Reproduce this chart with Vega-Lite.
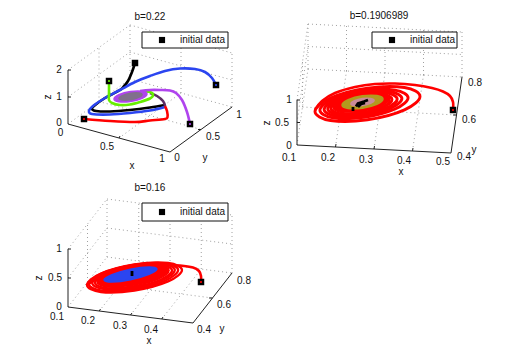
{
"$schema":"https://vega.github.io/schema/vega-lite/v6.json",
"width":521,"height":364,"autosize":{"type":"fit","contains":"padding"},"padding":0,"background":"white",
"config":{"view":{"stroke":null}},
"datasets":{
"dotted":[
{"h":68,"v":124,"h2":130,"v2":79},{"h":130,"v":79,"h2":232,"v2":107},{"h":68,"v":70,"h2":130,"v2":25},{"h":130,"v":25,"h2":232,"v2":53},{"h":130,"v":79,"h2":130,"v2":25},{"h":232,"v":107,"h2":232,"v2":53},
{"h":119,"v":138,"h2":181,"v2":93},{"h":99,"v":101.5,"h2":201,"v2":129.5},{"h":99,"v":101.5,"h2":99,"v2":47.5},{"h":68,"v":97,"h2":130,"v2":52},{"h":181,"v":93,"h2":181,"v2":39},{"h":130,"v":52,"h2":232,"v2":80},
{"h":335.5,"v":147,"h2":346.5,"v2":71},{"h":374,"v":149,"h2":385,"v2":73},{"h":412.5,"v":151,"h2":423.5,"v2":75},{"h":297,"v":145,"h2":308,"v2":69},{"h":302.5,"v":107,"h2":456.5,"v2":115},{"h":308,"v":69,"h2":462,"v2":77},
{"h":297,"v":122.5,"h2":308,"v2":46.5},{"h":297,"v":100,"h2":308,"v2":24},{"h":302.5,"v":107,"h2":302.5,"v2":62},{"h":308,"v":69,"h2":308,"v2":24},{"h":308,"v":46.5,"h2":462,"v2":54.5},{"h":308,"v":24,"h2":462,"v2":32},
{"h":346.5,"v":71,"h2":346.5,"v2":26},{"h":385,"v":73,"h2":385,"v2":28},{"h":423.5,"v":75,"h2":423.5,"v2":30},{"h":462,"v":77,"h2":462,"v2":32},
{"h":99.25,"v":311,"h2":138.75,"v2":261},{"h":130.5,"v":315,"h2":170,"v2":265},{"h":161.75,"v":319,"h2":201.25,"v2":269},{"h":87.5,"v":282,"h2":212.5,"v2":298},{"h":107,"v":257,"h2":232,"v2":273},{"h":68,"v":307,"h2":107,"v2":257},
{"h":68,"v":278,"h2":107,"v2":228},{"h":68,"v":249,"h2":107,"v2":199},{"h":87.5,"v":282,"h2":87.5,"v2":224},{"h":107,"v":257,"h2":107,"v2":199},{"h":107,"v":228,"h2":232,"v2":244},{"h":107,"v":199,"h2":232,"v2":215},
{"h":138.75,"v":261,"h2":138.75,"v2":203},{"h":170,"v":265,"h2":170,"v2":207},{"h":201.25,"v":269,"h2":201.25,"v2":211},{"h":232,"v":273,"h2":232,"v2":215}
],
"solid":[
{"h":68,"v":124,"h2":68,"v2":70},{"h":68,"v":124,"h2":170,"v2":152},{"h":170,"v":152,"h2":232,"v2":107},
{"h":68,"v":97,"h2":71,"v2":97},{"h":68,"v":70,"h2":71,"v2":70},{"h":119,"v":138,"h2":120,"v2":136},{"h":201,"v":129.5,"h2":198,"v2":129.5},
{"h":297,"v":145,"h2":297,"v2":100},{"h":297,"v":145,"h2":451,"v2":153},{"h":451,"v":153,"h2":462,"v2":77},
{"h":297,"v":122.5,"h2":300,"v2":122.5},{"h":297,"v":100,"h2":300,"v2":100},{"h":335.5,"v":147,"h2":336,"v2":144},{"h":374,"v":149,"h2":374.5,"v2":146},{"h":412.5,"v":151,"h2":413,"v2":148},{"h":456.5,"v":115,"h2":453,"v2":115},
{"h":68,"v":307,"h2":68,"v2":249},{"h":68,"v":307,"h2":193,"v2":323},{"h":193,"v":323,"h2":232,"v2":273},
{"h":68,"v":278,"h2":71,"v2":278},{"h":68,"v":249,"h2":71,"v2":249},{"h":99.25,"v":311,"h2":100.5,"v2":309},{"h":130.5,"v":315,"h2":132,"v2":313},{"h":161.75,"v":319,"h2":163,"v2":317},{"h":212.5,"v":298,"h2":209,"v2":298}
],
"markers":[{"h":84,"v":119,"s":"red"},{"h":135,"v":63,"s":"black"},{"h":109,"v":81,"s":"green"},{"h":216,"v":85,"s":"blue"},{"h":190,"v":124,"s":"purple"},{"h":453,"v":110,"s":"red"},{"h":201,"v":282,"s":"red"}],
"legendMarkers":[{"h":162,"v":40},{"h":392,"v":40},{"h":162,"v":212}],
"boxes":[{"h":142,"v":32,"h2":228,"v2":48},{"h":372,"v":32,"h2":457,"v2":48},{"h":142,"v":203,"h2":228,"v2":221}],
"legendText":[{"t":"initial data","h":180,"v":40},{"t":"initial data","h":410,"v":40},{"t":"initial data","h":180,"v":212}],
"labels":[
{"t":"b=0.22","h":150,"v":17},{"t":"0","h":60.5,"v":132.5},{"t":"0.5","h":107,"v":147},{"t":"1","h":162,"v":159},{"t":"0","h":177,"v":158},{"t":"0.5","h":213,"v":137},{"t":"1","h":239,"v":115},{"t":"0","h":59,"v":123},{"t":"1","h":59,"v":97},{"t":"2","h":59,"v":70},{"t":"x","h":132,"v":166},{"t":"y","h":205,"v":158},
{"t":"b=0.1906989","h":379,"v":16},{"t":"0.1","h":289,"v":158},{"t":"0.2","h":328,"v":158},{"t":"0.3","h":366,"v":160},{"t":"0.4","h":404,"v":161},{"t":"0.5","h":443,"v":162},{"t":"0.4","h":464,"v":157},{"t":"0.6","h":469,"v":120},{"t":"0.8","h":475,"v":83},{"t":"0","h":289,"v":146},{"t":"0.5","h":282,"v":123},{"t":"1","h":289,"v":100},{"t":"x","h":401,"v":172},{"t":"y","h":474,"v":150},
{"t":"b=0.16","h":150,"v":188},{"t":"0.1","h":57,"v":317},{"t":"0.2","h":88,"v":321},{"t":"0.3","h":120,"v":326},{"t":"0.4","h":151,"v":330},{"t":"0.4","h":204,"v":330},{"t":"0.6","h":224,"v":305},{"t":"0.8","h":244,"v":281},{"t":"0","h":59,"v":307},{"t":"0.5","h":55,"v":278},{"t":"1","h":59,"v":249},{"t":"x","h":149,"v":341},{"t":"y","h":222,"v":329}
],
"zLabels":[{"t":"z","h":48,"v":97},{"t":"z","h":267,"v":123},{"t":"z","h":39,"v":278}],
"leads":[
{"g":"p1black","s":"black","i":0,"h":135,"v":63},{"g":"p1black","s":"black","i":1,"h":132,"v":72},{"g":"p1black","s":"black","i":2,"h":128,"v":81},{"g":"p1black","s":"black","i":3,"h":124,"v":86},{"g":"p1black","s":"black","i":4,"h":120,"v":90},{"g":"p1black","s":"black","i":5,"h":105,"v":98},{"g":"p1black","s":"black","i":6,"h":94,"v":106},{"g":"p1black","s":"black","i":7,"h":92,"v":109},{"g":"p1black","s":"black","i":8,"h":96,"v":111},{"g":"p1black","s":"black","i":9,"h":110,"v":111.5},{"g":"p1black","s":"black","i":10,"h":130,"v":110},{"g":"p1black","s":"black","i":11,"h":150,"v":107.5},{"g":"p1black","s":"black","i":12,"h":165,"v":105},
{"g":"p1blue","s":"blue","i":0,"h":216,"v":85},{"g":"p1blue","s":"blue","i":1,"h":212,"v":78},{"g":"p1blue","s":"blue","i":2,"h":205,"v":72},{"g":"p1blue","s":"blue","i":3,"h":195,"v":69},{"g":"p1blue","s":"blue","i":4,"h":180,"v":68.5},{"g":"p1blue","s":"blue","i":5,"h":165,"v":71},{"g":"p1blue","s":"blue","i":6,"h":150,"v":76},{"g":"p1blue","s":"blue","i":7,"h":135,"v":82},{"g":"p1blue","s":"blue","i":8,"h":120,"v":90},{"g":"p1blue","s":"blue","i":9,"h":105,"v":98},{"g":"p1blue","s":"blue","i":10,"h":93,"v":106},{"g":"p1blue","s":"blue","i":11,"h":89,"v":111},{"g":"p1blue","s":"blue","i":12,"h":92,"v":114},{"g":"p1blue","s":"blue","i":13,"h":110,"v":114.5},{"g":"p1blue","s":"blue","i":14,"h":130,"v":113},{"g":"p1blue","s":"blue","i":15,"h":150,"v":110.5},{"g":"p1blue","s":"blue","i":16,"h":165,"v":107},
{"g":"p1red","s":"red","i":0,"h":84,"v":119},{"g":"p1red","s":"red","i":1,"h":110,"v":121},{"g":"p1red","s":"red","i":2,"h":135,"v":122},{"g":"p1red","s":"red","i":3,"h":150,"v":120.5},{"g":"p1red","s":"red","i":4,"h":165,"v":119},{"g":"p1red","s":"red","i":5,"h":167.5,"v":117},{"g":"p1red","s":"red","i":6,"h":167,"v":111},{"g":"p1red","s":"red","i":7,"h":165,"v":106},
{"g":"p1maroon","s":"maroon","i":0,"h":165,"v":106},{"g":"p1maroon","s":"maroon","i":1,"h":163,"v":101},{"g":"p1maroon","s":"maroon","i":2,"h":157,"v":96},{"g":"p1maroon","s":"maroon","i":3,"h":150,"v":93},
{"g":"p1green","s":"green","i":0,"h":109,"v":81},{"g":"p1green","s":"green","i":1,"h":109,"v":92},{"g":"p1green","s":"green","i":2,"h":109,"v":100},{"g":"p1green","s":"green","i":3,"h":112,"v":103},{"g":"p1green","s":"green","i":4,"h":120,"v":105},{"g":"p1green","s":"green","i":5,"h":130,"v":104.5},{"g":"p1green","s":"green","i":6,"h":140,"v":102},{"g":"p1green","s":"green","i":7,"h":150,"v":98.5},{"g":"p1green","s":"green","i":8,"h":153,"v":95},{"g":"p1green","s":"green","i":9,"h":150,"v":92},{"g":"p1green","s":"green","i":10,"h":140,"v":91.5},
{"g":"p1purple","s":"purple","i":0,"h":190,"v":124},{"g":"p1purple","s":"purple","i":1,"h":187,"v":112},{"g":"p1purple","s":"purple","i":2,"h":182,"v":100},{"g":"p1purple","s":"purple","i":3,"h":176,"v":93},{"g":"p1purple","s":"purple","i":4,"h":170,"v":90.5},{"g":"p1purple","s":"purple","i":5,"h":160,"v":90},{"g":"p1purple","s":"purple","i":6,"h":150,"v":90},{"g":"p1purple","s":"purple","i":7,"h":140,"v":91},
{"g":"p2lead","s":"red","i":0,"h":453,"v":110},{"g":"p2lead","s":"red","i":1,"h":453,"v":102},{"g":"p2lead","s":"red","i":2,"h":450,"v":96},{"g":"p2lead","s":"red","i":3,"h":443,"v":91.5},{"g":"p2lead","s":"red","i":4,"h":432,"v":88},{"g":"p2lead","s":"red","i":5,"h":415,"v":85},{"g":"p2lead","s":"red","i":6,"h":395,"v":83.5},{"g":"p2lead","s":"red","i":7,"h":375,"v":84},{"g":"p2lead","s":"red","i":8,"h":355,"v":87},{"g":"p2lead","s":"red","i":9,"h":335,"v":93},{"g":"p2lead","s":"red","i":10,"h":322,"v":101},{"g":"p2lead","s":"red","i":11,"h":315,"v":110},
{"g":"p3lead","s":"red","i":0,"h":201,"v":282},{"g":"p3lead","s":"red","i":1,"h":201,"v":276},{"g":"p3lead","s":"red","i":2,"h":199,"v":271},{"g":"p3lead","s":"red","i":3,"h":193,"v":267.5},{"g":"p3lead","s":"red","i":4,"h":180,"v":265.5},{"g":"p3lead","s":"red","i":5,"h":165,"v":265},{"g":"p3lead","s":"red","i":6,"h":150,"v":265.5},{"g":"p3lead","s":"red","i":7,"h":135,"v":267},{"g":"p3lead","s":"red","i":8,"h":120,"v":270},{"g":"p3lead","s":"red","i":9,"h":105,"v":275},{"g":"p3lead","s":"red","i":10,"h":93,"v":281},{"g":"p3lead","s":"red","i":11,"h":87,"v":285}
],
"ringsTop":[
{"g":"a1","s":"red","i":0,"h":420,"v":96.5},{"g":"a1","s":"red","i":1,"h":404.5,"v":109.9},{"g":"a1","s":"red","i":2,"h":367.5,"v":119.8},{"g":"a1","s":"red","i":3,"h":330.5,"v":120.5},{"g":"a1","s":"red","i":4,"h":315,"v":111.5},{"g":"a1","s":"red","i":5,"h":330.5,"v":98.1},{"g":"a1","s":"red","i":6,"h":367.5,"v":88.2},{"g":"a1","s":"red","i":7,"h":404.5,"v":87.5},
{"g":"a2","s":"red","i":0,"h":408.1,"v":97.7},{"g":"a2","s":"red","i":1,"h":395.1,"v":109},{"g":"a2","s":"red","i":2,"h":364,"v":117.3},{"g":"a2","s":"red","i":3,"h":332.9,"v":117.9},{"g":"a2","s":"red","i":4,"h":319.9,"v":110.3},{"g":"a2","s":"red","i":5,"h":332.9,"v":99},{"g":"a2","s":"red","i":6,"h":364,"v":90.7},{"g":"a2","s":"red","i":7,"h":395.1,"v":90.1},
{"g":"a3","s":"red","i":0,"h":401.9,"v":98.4},{"g":"a3","s":"red","i":1,"h":390.4,"v":108.4},{"g":"a3","s":"red","i":2,"h":363,"v":115.7},{"g":"a3","s":"red","i":3,"h":335.6,"v":116.2},{"g":"a3","s":"red","i":4,"h":324.1,"v":109.6},{"g":"a3","s":"red","i":5,"h":335.6,"v":99.6},{"g":"a3","s":"red","i":6,"h":363,"v":92.3},{"g":"a3","s":"red","i":7,"h":390.4,"v":91.8},
{"g":"a4","s":"red","i":0,"h":397.2,"v":99},{"g":"a4","s":"red","i":1,"h":386.9,"v":107.9},{"g":"a4","s":"red","i":2,"h":362.5,"v":114.4},{"g":"a4","s":"red","i":3,"h":338.1,"v":114.9},{"g":"a4","s":"red","i":4,"h":327.8,"v":109},{"g":"a4","s":"red","i":5,"h":338.1,"v":100.1},{"g":"a4","s":"red","i":6,"h":362.5,"v":93.6},{"g":"a4","s":"red","i":7,"h":386.9,"v":93.1},
{"g":"a5","s":"red","i":0,"h":392,"v":99.6},{"g":"a5","s":"red","i":1,"h":383,"v":107.4},{"g":"a5","s":"red","i":2,"h":361.5,"v":113.2},{"g":"a5","s":"red","i":3,"h":340,"v":113.6},{"g":"a5","s":"red","i":4,"h":331,"v":108.4},{"g":"a5","s":"red","i":5,"h":340,"v":100.6},{"g":"a5","s":"red","i":6,"h":361.5,"v":94.8},{"g":"a5","s":"red","i":7,"h":383,"v":94.4}
],
"ringsBottom":[
{"g":"b1","s":"red","i":0,"h":182,"v":270},{"g":"b1","s":"red","i":1,"h":168.1,"v":281.4},{"g":"b1","s":"red","i":2,"h":134.5,"v":290.5},{"g":"b1","s":"red","i":3,"h":100.9,"v":292},{"g":"b1","s":"red","i":4,"h":87,"v":285},{"g":"b1","s":"red","i":5,"h":100.9,"v":273.6},{"g":"b1","s":"red","i":6,"h":134.5,"v":264.5},{"g":"b1","s":"red","i":7,"h":168.1,"v":263},
{"g":"b2","s":"red","i":0,"h":178.1,"v":269.9},{"g":"b2","s":"red","i":1,"h":165.1,"v":280.7},{"g":"b2","s":"red","i":2,"h":133.5,"v":289.2},{"g":"b2","s":"red","i":3,"h":101.9,"v":290.6},{"g":"b2","s":"red","i":4,"h":88.9,"v":284.1},{"g":"b2","s":"red","i":5,"h":101.9,"v":273.3},{"g":"b2","s":"red","i":6,"h":133.5,"v":264.8},{"g":"b2","s":"red","i":7,"h":165.1,"v":263.4},
{"g":"b3","s":"red","i":0,"h":174.8,"v":270},{"g":"b3","s":"red","i":1,"h":162.7,"v":279.9},{"g":"b3","s":"red","i":2,"h":133.5,"v":287.8},{"g":"b3","s":"red","i":3,"h":104.3,"v":289.1},{"g":"b3","s":"red","i":4,"h":92.2,"v":283},{"g":"b3","s":"red","i":5,"h":104.3,"v":273.1},{"g":"b3","s":"red","i":6,"h":133.5,"v":265.2},{"g":"b3","s":"red","i":7,"h":162.7,"v":263.9},
{"g":"b4","s":"red","i":0,"h":172,"v":270.4},{"g":"b4","s":"red","i":1,"h":160.7,"v":279.7},{"g":"b4","s":"red","i":2,"h":133.5,"v":287},{"g":"b4","s":"red","i":3,"h":106.3,"v":288.2},{"g":"b4","s":"red","i":4,"h":95,"v":282.6},{"g":"b4","s":"red","i":5,"h":106.3,"v":273.3},{"g":"b4","s":"red","i":6,"h":133.5,"v":266},{"g":"b4","s":"red","i":7,"h":160.7,"v":264.8}
],
"blobs":[
{"g":"c1","s":"purple","i":0,"h":147,"v":94},{"g":"c1","s":"purple","i":1,"h":142.2,"v":98.2},{"g":"c1","s":"purple","i":2,"h":130.5,"v":101.5},{"g":"c1","s":"purple","i":3,"h":118.8,"v":101.8},{"g":"c1","s":"purple","i":4,"h":114,"v":99},{"g":"c1","s":"purple","i":5,"h":118.8,"v":94.8},{"g":"c1","s":"purple","i":6,"h":130.5,"v":91.5},{"g":"c1","s":"purple","i":7,"h":142.2,"v":91.2},
{"g":"c2","s":"mauveGray","i":0,"h":142,"v":94.7},{"g":"c2","s":"mauveGray","i":1,"h":138.6,"v":97.4},{"g":"c2","s":"mauveGray","i":2,"h":130.5,"v":99.7},{"g":"c2","s":"mauveGray","i":3,"h":122.4,"v":100},{"g":"c2","s":"mauveGray","i":4,"h":119,"v":98.3},{"g":"c2","s":"mauveGray","i":5,"h":122.4,"v":95.6},{"g":"c2","s":"mauveGray","i":6,"h":130.5,"v":93.3},{"g":"c2","s":"mauveGray","i":7,"h":138.6,"v":93},
{"g":"d1","s":"red","i":0,"h":389.9,"v":99.4},{"g":"d1","s":"red","i":1,"h":381.5,"v":106.7},{"g":"d1","s":"red","i":2,"h":361.5,"v":112},{"g":"d1","s":"red","i":3,"h":341.5,"v":112.4},{"g":"d1","s":"red","i":4,"h":333.1,"v":107.6},{"g":"d1","s":"red","i":5,"h":341.5,"v":100.3},{"g":"d1","s":"red","i":6,"h":361.5,"v":95},{"g":"d1","s":"red","i":7,"h":381.5,"v":94.6},
{"g":"d2","s":"olive","i":0,"h":383,"v":99.1},{"g":"d2","s":"olive","i":1,"h":376.9,"v":104.3},{"g":"d2","s":"olive","i":2,"h":362.5,"v":108.2},{"g":"d2","s":"olive","i":3,"h":348.1,"v":108.4},{"g":"d2","s":"olive","i":4,"h":342,"v":104.9},{"g":"d2","s":"olive","i":5,"h":348.1,"v":99.7},{"g":"d2","s":"olive","i":6,"h":362.5,"v":95.8},{"g":"d2","s":"olive","i":7,"h":376.9,"v":95.6},
{"g":"d3","s":"pink","i":0,"h":374.1,"v":100.3},{"g":"d3","s":"pink","i":1,"h":370.6,"v":103.3},{"g":"d3","s":"pink","i":2,"h":362.5,"v":105.5},{"g":"d3","s":"pink","i":3,"h":354.4,"v":105.6},{"g":"d3","s":"pink","i":4,"h":350.9,"v":103.7},{"g":"d3","s":"pink","i":5,"h":354.4,"v":100.7},{"g":"d3","s":"pink","i":6,"h":362.5,"v":98.5},{"g":"d3","s":"pink","i":7,"h":370.6,"v":98.4},
{"g":"e1","s":"red","i":0,"h":169.1,"v":270.3},{"g":"e1","s":"red","i":1,"h":158.5,"v":279},{"g":"e1","s":"red","i":2,"h":133,"v":285.9},{"g":"e1","s":"red","i":3,"h":107.5,"v":287},{"g":"e1","s":"red","i":4,"h":96.9,"v":281.7},{"g":"e1","s":"red","i":5,"h":107.5,"v":273},{"g":"e1","s":"red","i":6,"h":133,"v":266.1},{"g":"e1","s":"red","i":7,"h":158.5,"v":265},
{"g":"e2","s":"blue","i":0,"h":157,"v":269},{"g":"e2","s":"blue","i":1,"h":149.1,"v":274.2},{"g":"e2","s":"blue","i":2,"h":130.5,"v":279.7},{"g":"e2","s":"blue","i":3,"h":111.9,"v":282},{"g":"e2","s":"blue","i":4,"h":104,"v":280},{"g":"e2","s":"blue","i":5,"h":111.9,"v":274.8},{"g":"e2","s":"blue","i":6,"h":130.5,"v":269.3},{"g":"e2","s":"blue","i":7,"h":149.1,"v":267}
],
"cores":[
{"g":"k1","i":0,"h":353,"v":111},{"g":"k1","i":1,"h":353,"v":107},
{"g":"k2","i":0,"h":356,"v":106.5},{"g":"k2","i":1,"h":358,"v":103.5},{"g":"k2","i":2,"h":361,"v":102.5},{"g":"k2","i":3,"h":364,"v":101.5},{"g":"k2","i":4,"h":368,"v":100},
{"g":"k4","i":0,"h":358,"v":107},{"g":"k4","i":1,"h":361,"v":104},{"g":"k4","i":2,"h":365,"v":103},
{"g":"k3","i":0,"h":132,"v":271},{"g":"k3","i":1,"h":132,"v":276}
]
},
"encoding":{
"x":{"field":"h","type":"quantitative","scale":{"domain":[0,521],"nice":false,"zero":false},"axis":null},
"y":{"field":"v","type":"quantitative","scale":{"domain":[364,0],"nice":false,"zero":false},"axis":null}
},
"layer":[
{"data":{"name":"dotted"},"mark":{"type":"rule","color":"#a0a0a0","strokeWidth":1,"strokeDash":[1,3]},"encoding":{"x2":{"field":"h2"},"y2":{"field":"v2"}}},
{"data":{"name":"solid"},"mark":{"type":"rule","color":"#222222","strokeWidth":1},"encoding":{"x2":{"field":"h2"},"y2":{"field":"v2"}}},
{"data":{"name":"leads"},"mark":{"type":"line","interpolate":"cardinal","strokeWidth":2.6},"encoding":{"detail":{"field":"g"},"order":{"field":"i","type":"quantitative"},"color":{"field":"s","type":"nominal","legend":null,"scale":{"domain":["red","blue","black","maroon","green","purple","mauveGray","olive","pink"],"range":["#ff0000","#2b45f0","#000000","#5c2c62","#66ee00","#b044ee","#80708c","#b39a1e","#c98a98"]}}}},
{"data":{"name":"ringsTop"},"mark":{"type":"line","interpolate":"cardinal-closed","strokeWidth":2.9,"color":"#ff0000"},"encoding":{"detail":{"field":"g"},"order":{"field":"i","type":"quantitative"}}},
{"data":{"name":"ringsBottom"},"mark":{"type":"line","interpolate":"cardinal-closed","strokeWidth":2.3,"color":"#ff0000"},"encoding":{"detail":{"field":"g"},"order":{"field":"i","type":"quantitative"}}},
{"data":{"name":"blobs"},"mark":{"type":"line","interpolate":"cardinal-closed","strokeWidth":1.5},"encoding":{"detail":{"field":"g"},"order":{"field":"i","type":"quantitative"},"stroke":{"field":"s","type":"nominal","legend":null,"scale":{"domain":["red","blue","black","maroon","green","purple","mauveGray","olive","pink"],"range":["#ff0000","#2b45f0","#000000","#5c2c62","#66ee00","#b044ee","#80708c","#b39a1e","#c98a98"]}},"fill":{"field":"s","type":"nominal","legend":null,"scale":{"domain":["red","blue","black","maroon","green","purple","mauveGray","olive","pink"],"range":["#ff0000","#2b45f0","#000000","#5c2c62","#66ee00","#b044ee","#80708c","#b39a1e","#c98a98"]}}}},
{"data":{"name":"cores"},"mark":{"type":"line","color":"black","strokeWidth":2.8},"encoding":{"detail":{"field":"g"},"order":{"field":"i","type":"quantitative"}}},
{"data":{"name":"markers"},"mark":{"type":"square","color":"black","size":42,"opacity":1},"encoding":{}},
{"data":{"name":"markers"},"mark":{"type":"circle","size":5,"opacity":1},"encoding":{"color":{"field":"s","type":"nominal","legend":null,"scale":{"domain":["red","blue","black","maroon","green","purple","mauveGray","olive","pink"],"range":["#ff0000","#2b45f0","#000000","#5c2c62","#66ee00","#b044ee","#80708c","#b39a1e","#c98a98"]}}}},
{"data":{"name":"boxes"},"mark":{"type":"rect","fill":"white","stroke":"#111111","strokeWidth":1},"encoding":{"x2":{"field":"h2"},"y2":{"field":"v2"}}},
{"data":{"name":"legendMarkers"},"mark":{"type":"square","color":"black","size":38,"opacity":1},"encoding":{}},
{"data":{"name":"legendText"},"mark":{"type":"text","align":"left","baseline":"middle","font":"Liberation Sans","fontSize":10,"color":"#111111"},"encoding":{"text":{"field":"t"}}},
{"data":{"name":"labels"},"mark":{"type":"text","align":"center","baseline":"middle","font":"Liberation Sans","fontSize":10,"color":"#111111"},"encoding":{"text":{"field":"t"}}},
{"data":{"name":"zLabels"},"mark":{"type":"text","align":"center","baseline":"middle","font":"Liberation Sans","fontSize":10,"color":"#111111","angle":270},"encoding":{"text":{"field":"t"}}}
]
}
